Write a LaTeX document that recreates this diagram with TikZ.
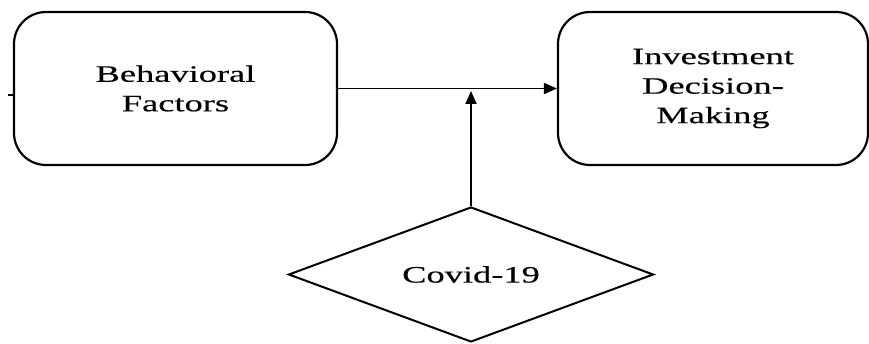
\documentclass[tikz,border=0pt]{standalone}
\usepackage{fontspec}
\setmainfont{Liberation Serif}[FakeStretch=1.55,FakeBold=0.3]
\usetikzlibrary{shapes.geometric,arrows.meta}
\begin{document}
\begin{tikzpicture}[x=1pt,y=1pt,
  box/.style={draw, line width=2.2pt, rounded corners=32pt, align=center, inner sep=0pt,
    font=\fontsize{23.5}{29.5}\selectfont},
  dia/.style={draw, line width=2pt, diamond, inner sep=0pt, aspect=2.7,
    font=\fontsize{23.5}{29.5}\selectfont},
  conn/.style={line width=1.8pt, -{Triangle[length=13pt,width=11pt]}}]
\useasboundingbox (0,0) rectangle (869,343);
\node[box, minimum width=323pt, minimum height=153pt] (L) at (175.5,254.5) {Behavioral\\Factors};
\node[box, minimum width=310pt, minimum height=153pt] (R) at (713,254.5) {Investment\\Decision-\\Making};
\node[dia, minimum width=365pt, minimum height=135pt] (C) at (471,68.5) {Covid-19};
\coordinate (tip) at (471,252);
\coordinate (tick) at (8,248);
\draw[conn] (L.east) -- (R.west);
\draw[conn] (C.north) -- (tip);
\draw[line width=1.8pt] (tick) -- (tick -| L.west);
\end{tikzpicture}
\end{document}
